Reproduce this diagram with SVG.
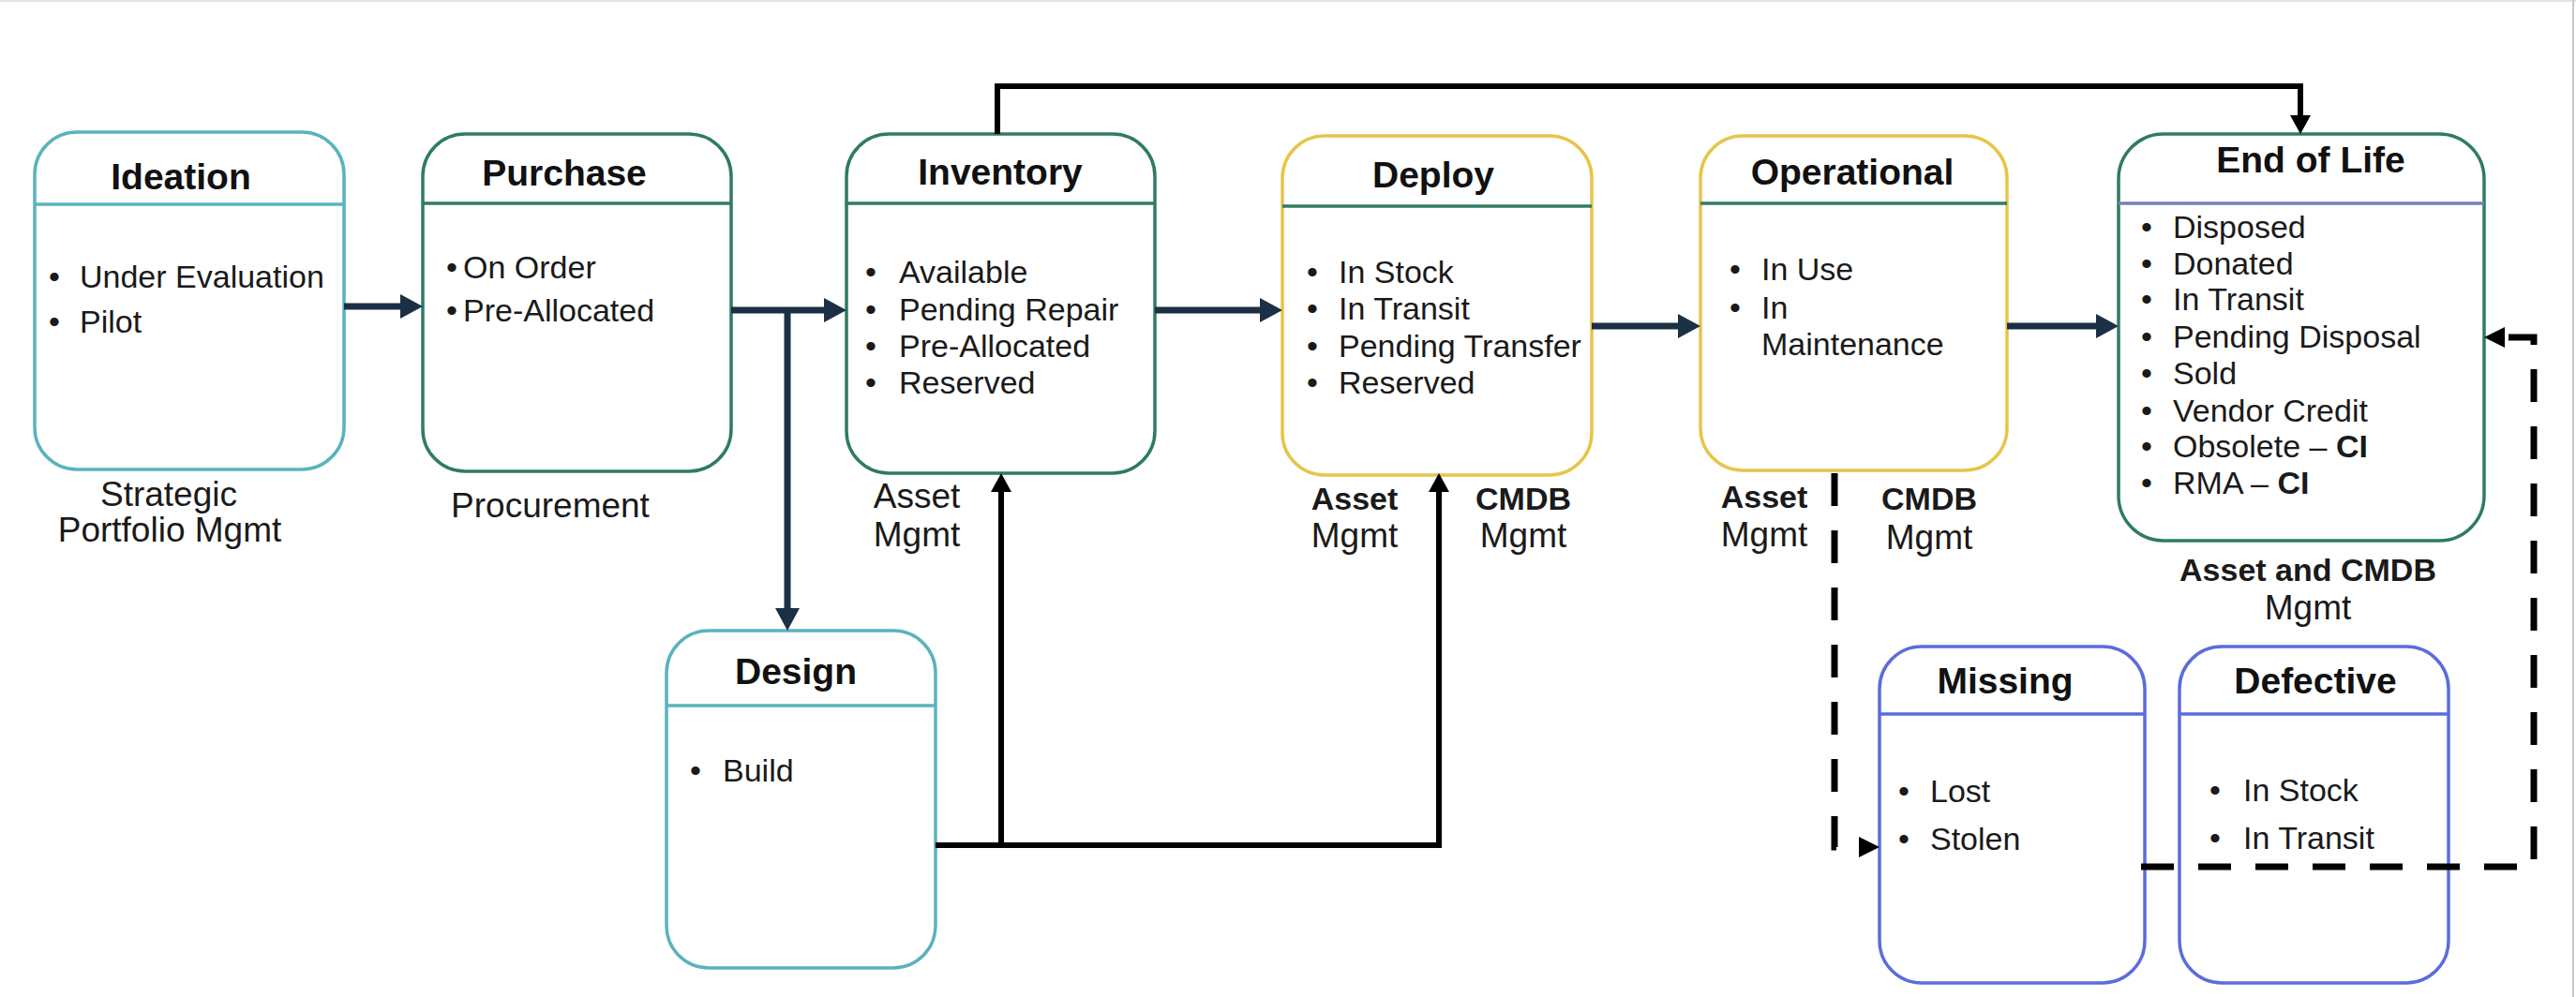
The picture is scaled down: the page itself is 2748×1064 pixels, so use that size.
<svg xmlns="http://www.w3.org/2000/svg" width="2748" height="1064" viewBox="0 0 2748 1064">
<style>
text{font-family:"Liberation Sans",Arial,sans-serif;fill:#1a1a1a}
.box{fill:#fff;stroke-width:3.5}
.dv{stroke-width:3.5}
.teal{stroke:#5ab3bc}
.green{stroke:#2f7b62}
.gold{stroke:#e6c54a}
.blue{stroke:#5b6cdc}
.bgray{stroke:#7383b8}
.title{font-size:39px;font-weight:bold;text-anchor:middle;fill:#111}
.it{font-size:34px}
.lbl{font-size:37px;text-anchor:middle}
.lblb{font-size:34px;font-weight:bold;text-anchor:middle}
.nav{stroke:#1b3045;stroke-width:7;fill:none}
.blk{stroke:#000;stroke-width:6;fill:none}
.dash{stroke:#000;stroke-width:7;stroke-dasharray:35 26;fill:none}
</style>
<defs>
<marker id="an" markerUnits="userSpaceOnUse" markerWidth="24" markerHeight="26" viewBox="0 -13 24 26" refX="0" refY="0" orient="auto"><path d="M0,-13 L24,0 L0,13 z" fill="#1b3045"/></marker>
<marker id="ab" markerUnits="userSpaceOnUse" markerWidth="20" markerHeight="22" viewBox="0 -11 20 22" refX="0" refY="0" orient="auto"><path d="M0,-11 L20,0 L0,11 z" fill="#000"/></marker>
<marker id="ad" markerUnits="userSpaceOnUse" markerWidth="22" markerHeight="22" viewBox="0 -11 22 22" refX="0" refY="0" orient="auto"><path d="M0,-11 L22,0 L0,11 z" fill="#000"/></marker>
</defs>
<rect width="2748" height="1064" fill="#fff"/>
<line x1="0" y1="1" x2="2748" y2="1" stroke="#e2e2e2" stroke-width="2"/>
<line x1="2745" y1="0" x2="2745" y2="1064" stroke="#c8c8c8" stroke-width="2"/>

<g id="ideation">
<rect class="box teal" x="37" y="141" width="330" height="360" rx="45"/>
<line class="dv teal" x1="37" y1="218" x2="367" y2="218"/>
<text class="title" x="193" y="202">Ideation</text>
<text class="it" x="52" y="307">•</text><text class="it" x="85" y="307">Under Evaluation</text>
<text class="it" x="52" y="355">•</text><text class="it" x="85" y="355">Pilot</text>
<text class="lbl" x="180" y="540">Strategic</text>
<text class="lbl" x="181" y="578">Portfolio Mgmt</text>
</g>

<g id="purchase">
<rect class="box green" x="451" y="143" width="329" height="360" rx="45"/>
<line class="dv green" x1="451" y1="217" x2="780" y2="217"/>
<text class="title" x="602" y="198">Purchase</text>
<text class="it" x="476" y="297">•</text><text class="it" x="494" y="297">On Order</text>
<text class="it" x="476" y="343">•</text><text class="it" x="494" y="343">Pre-Allocated</text>
<text class="lbl" x="587" y="552">Procurement</text>
</g>

<g id="inventory">
<rect class="box green" x="903" y="143" width="329" height="362" rx="45"/>
<line class="dv green" x1="903" y1="217" x2="1232" y2="217"/>
<text class="title" x="1067" y="197">Inventory</text>
<text class="it" x="923" y="302">•</text><text class="it" x="959" y="302">Available</text>
<text class="it" x="923" y="342">•</text><text class="it" x="959" y="342">Pending Repair</text>
<text class="it" x="923" y="381">•</text><text class="it" x="959" y="381">Pre-Allocated</text>
<text class="it" x="923" y="420">•</text><text class="it" x="959" y="420">Reserved</text>
<text class="lbl" x="978" y="542">Asset</text>
<text class="lbl" x="978" y="583">Mgmt</text>
</g>

<g id="deploy">
<rect class="box gold" x="1368" y="145" width="330" height="362" rx="45"/>
<line class="dv green" x1="1368" y1="220" x2="1698" y2="220"/>
<text class="title" x="1529" y="200">Deploy</text>
<text class="it" x="1394" y="302">•</text><text class="it" x="1428" y="302">In Stock</text>
<text class="it" x="1394" y="341">•</text><text class="it" x="1428" y="341">In Transit</text>
<text class="it" x="1394" y="381">•</text><text class="it" x="1428" y="381">Pending Transfer</text>
<text class="it" x="1394" y="420">•</text><text class="it" x="1428" y="420">Reserved</text>
<text class="lblb" x="1445" y="544">Asset</text>
<text class="lbl" x="1445" y="584">Mgmt</text>
<text class="lblb" x="1625" y="544">CMDB</text>
<text class="lbl" x="1625" y="584">Mgmt</text>
</g>

<g id="operational">
<rect class="box gold" x="1814" y="145" width="327" height="357" rx="45"/>
<line class="dv green" x1="1814" y1="217" x2="2141" y2="217"/>
<text class="title" x="1976" y="197">Operational</text>
<text class="it" x="1845" y="299">•</text><text class="it" x="1879" y="299">In Use</text>
<text class="it" x="1845" y="340">•</text><text class="it" x="1879" y="340">In</text>
<text class="it" x="1879" y="379">Maintenance</text>
<text class="lblb" x="1882" y="542">Asset</text>
<text class="lbl" x="1882" y="583">Mgmt</text>
<text class="lblb" x="2058" y="544">CMDB</text>
<text class="lbl" x="2058" y="586">Mgmt</text>
</g>

<g id="end-of-life">
<rect class="box green" x="2260" y="143" width="390" height="434" rx="48"/>
<line class="dv bgray" x1="2260" y1="217" x2="2650" y2="217"/>
<text class="title" x="2465" y="184">End of Life</text>
<text class="it" x="2284" y="254">•</text><text class="it" x="2318" y="254">Disposed</text>
<text class="it" x="2284" y="293">•</text><text class="it" x="2318" y="293">Donated</text>
<text class="it" x="2284" y="331">•</text><text class="it" x="2318" y="331">In Transit</text>
<text class="it" x="2284" y="371">•</text><text class="it" x="2318" y="371">Pending Disposal</text>
<text class="it" x="2284" y="410">•</text><text class="it" x="2318" y="410">Sold</text>
<text class="it" x="2284" y="450">•</text><text class="it" x="2318" y="450">Vendor Credit</text>
<text class="it" x="2284" y="488">•</text><text class="it" x="2318" y="488">Obsolete – <tspan font-weight="bold">CI</tspan></text>
<text class="it" x="2284" y="527">•</text><text class="it" x="2318" y="527">RMA – <tspan font-weight="bold">CI</tspan></text>
<text class="lblb" x="2462" y="620">Asset and CMDB</text>
<text class="lbl" x="2462" y="661">Mgmt</text>
</g>

<g id="design">
<rect class="box teal" x="711" y="673" width="287" height="360" rx="45"/>
<line class="dv teal" x1="711" y1="753" x2="998" y2="753"/>
<text class="title" x="849" y="730">Design</text>
<text class="it" x="736" y="834">•</text><text class="it" x="771" y="834">Build</text>
</g>

<g id="missing">
<rect class="box blue" x="2005" y="690" width="283" height="359" rx="45"/>
<line class="dv blue" x1="2005" y1="762" x2="2288" y2="762"/>
<text class="title" x="2139" y="740">Missing</text>
<text class="it" x="2025" y="856">•</text><text class="it" x="2059" y="856">Lost</text>
<text class="it" x="2025" y="907">•</text><text class="it" x="2059" y="907">Stolen</text>
</g>

<g id="defective">
<rect class="box blue" x="2325" y="690" width="287" height="359" rx="45"/>
<line class="dv blue" x1="2325" y1="762" x2="2612" y2="762"/>
<text class="title" x="2470" y="740">Defective</text>
<text class="it" x="2357" y="855">•</text><text class="it" x="2393" y="855">In Stock</text>
<text class="it" x="2357" y="906">•</text><text class="it" x="2393" y="906">In Transit</text>
</g>

<g id="connectors">
<path class="nav" d="M367,327 H427" marker-end="url(#an)"/>
<path class="nav" d="M780,331 H879" marker-end="url(#an)"/>
<path class="nav" d="M840,331 V649" marker-end="url(#an)"/>
<path class="nav" d="M1232,331 H1344" marker-end="url(#an)"/>
<path class="nav" d="M1698,348 H1790" marker-end="url(#an)"/>
<path class="nav" d="M2141,348 H2236" marker-end="url(#an)"/>
<path class="blk" d="M1064,143 V92 H2454 V123" marker-end="url(#ab)"/>
<path class="blk" d="M998,902 H1535 V525" marker-end="url(#ab)"/>
<path class="blk" d="M1068,902 V525" marker-end="url(#ab)"/>
<path class="dash" d="M1957,505 V904 H1983" marker-end="url(#ad)"/>
<path class="dash" d="M2284,925 H2703 V360 H2672" marker-end="url(#ad)"/>
</g>
</svg>
